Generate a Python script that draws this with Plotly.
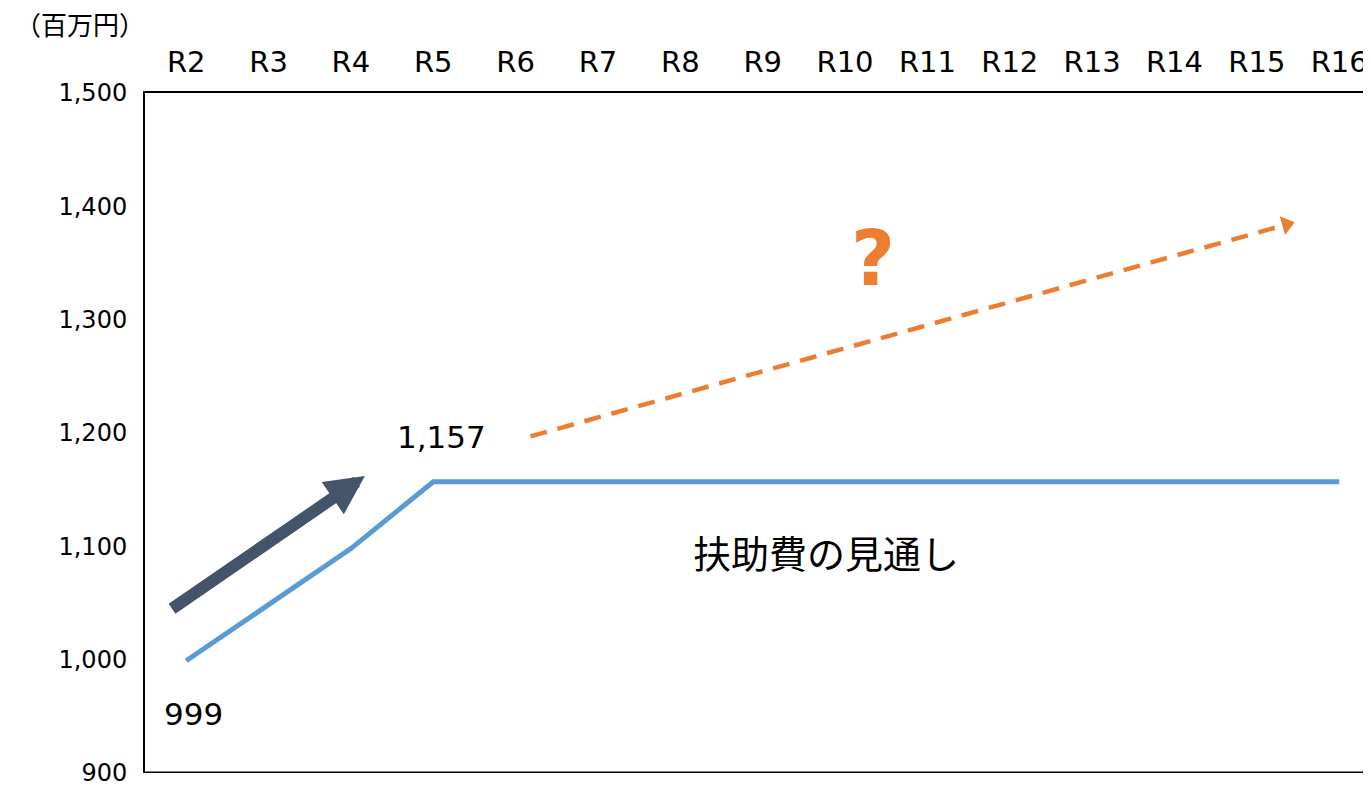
import plotly.graph_objects as go

# ---- data ----
years = ["R2", "R3", "R4", "R5", "R6", "R7", "R8", "R9", "R10", "R11", "R12", "R13", "R14", "R15", "R16"]
values = [999, 1048, 1098, 1157, 1157, 1157, 1157, 1157, 1157, 1157, 1157, 1157, 1157, 1157, 1157]
y_ticks = [900, 1000, 1100, 1200, 1300, 1400, 1500]
label_start = "999"
label_peak = "1,157"
title_text = "扶助費の見通し"
unit_text = "（百万円）"

# decorative arrows (category index, value)
growth_arrow = {"x0": -0.19, "y0": 1044, "x1": 2.17, "y1": 1162}
future_arrow = {"x0": 4.18, "y0": 1197, "x1": 13.36, "y1": 1384}

FONT = "DejaVu Sans, Noto Sans CJK JP"
BLUE = "#5B9BD5"
NAVY = "#44546A"
ORANGE = "#ED7D31"

xs = list(range(len(years)))

fig = go.Figure()
fig.add_trace(go.Scatter(
    x=xs, y=values, mode="lines",
    line=dict(color=BLUE, width=5), hoverinfo="skip", showlegend=False,
))

# dashed orange forecast arrow
fig.add_trace(go.Scatter(
    x=[future_arrow["x0"], future_arrow["x1"]],
    y=[future_arrow["y0"], future_arrow["y1"]],
    mode="lines+markers",
    line=dict(color=ORANGE, width=4.5, dash="17px,11px"),
    marker=dict(symbol="triangle-up", size=[0, 17], color=ORANGE, angleref="previous",
                opacity=1, line=dict(width=0)),
    hoverinfo="skip", showlegend=False,
))

annotations = [
    dict(x=growth_arrow["x1"], y=growth_arrow["y1"], ax=growth_arrow["x0"], ay=growth_arrow["y0"],
         xref="x", yref="y", axref="x", ayref="y", showarrow=True, arrowhead=2,
         arrowsize=0.65, arrowwidth=12, arrowcolor=NAVY, text=""),
    dict(x=3.1, y=1196.5, xref="x", yref="y", text=label_peak, showarrow=False,
         font=dict(size=31, color="#000000", family=FONT)),
    dict(x=0.09, y=952.5, xref="x", yref="y", text=label_start, showarrow=False,
         font=dict(size=31, color="#000000", family=FONT)),
    dict(x=7.77, y=1092.5, xref="x", yref="y", text=title_text, showarrow=False,
         font=dict(size=38, color="#000000", family=FONT)),
    dict(x=8.34, y=1354, xref="x", yref="y", text="<b>?</b>", showarrow=False,
         font=dict(size=76, color=ORANGE, family=FONT)),
    dict(x=-0.108, y=1.098, xref="paper", yref="paper", xanchor="left", yanchor="middle",
         text=unit_text, showarrow=False, font=dict(size=26, color="#000000", family=FONT)),
]

# page body has an 8px margin, so the figure is offset by 8px
OFF = 8
fig.update_layout(
    width=1371 - OFF, height=786 - OFF,
    margin=dict(l=145 - OFF, r=0, t=93 - OFF, b=13),
    paper_bgcolor="white", plot_bgcolor="white",
    font=dict(family=FONT, color="#000000"),
    annotations=annotations,
    shapes=[dict(type="line", xref="paper", yref="y", x0=0, x1=1, y0=900, y1=900,
                 line=dict(color="#000000", width=3))],
    xaxis=dict(range=[-0.5, 14.386], tickvals=xs, ticktext=years, side="top",
               showgrid=False, zeroline=False,
               showline=True, linecolor="#000000", linewidth=2, ticks="",
               tickfont=dict(size=29, family=FONT), ticklabelstandoff=7,
               ticklabeloverflow="allow"),
    yaxis=dict(range=[900, 1500], tickvals=y_ticks, tickformat=",", showgrid=False,
               zeroline=False, showline=True, linecolor="#000000", linewidth=2, ticks="",
               tickfont=dict(size=24, family=FONT), ticklabelstandoff=11,
               ticklabeloverflow="allow"),
)

fig.write_html("out.html")
